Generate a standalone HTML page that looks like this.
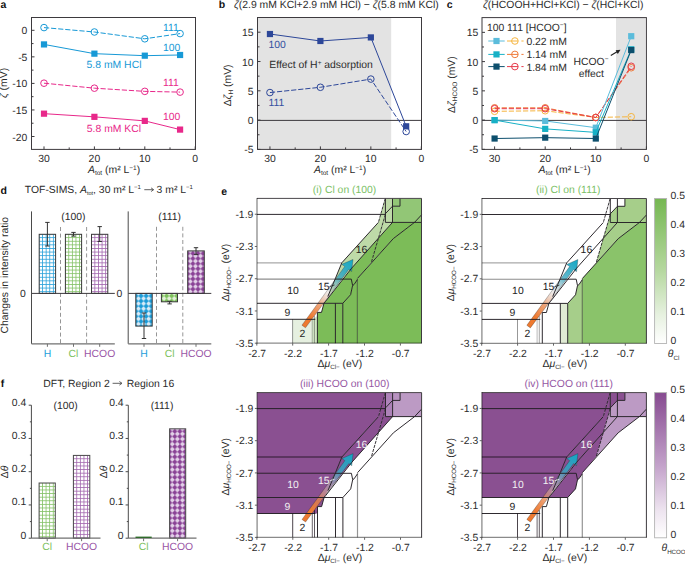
<!DOCTYPE html>
<html><head><meta charset="utf-8"><style>
html,body{margin:0;padding:0;background:#fff;}
svg{display:block;font-family:'Liberation Sans',sans-serif;text-rendering:geometricPrecision;}
</style></head><body>
<svg width="685" height="564" viewBox="0 0 685 564">
<rect width="685" height="564" fill="#fff"/>
<text x="0.6" y="8.0" font-size="10.5" font-weight="bold" fill="#111">a</text>
<text x="218.8" y="8.0" font-size="10.5" font-weight="bold" fill="#111">b</text>
<text x="446.8" y="8.0" font-size="10.5" font-weight="bold" fill="#111">c</text>
<text x="0.6" y="193.5" font-size="10.5" font-weight="bold" fill="#111">d</text>
<text x="221.2" y="194.5" font-size="10.5" font-weight="bold" fill="#111">e</text>
<text x="0.8" y="386.5" font-size="10.5" font-weight="bold" fill="#111">f</text>
<rect x="31.50" y="17.50" width="164.00" height="131.90" fill="none" stroke="#3d3a3e" stroke-width="1"/>
<line x1="31.50" y1="30.30" x2="34.50" y2="30.30" stroke="#3d3a3e" stroke-width="1" />
<text x="27.40" y="34.30" font-size="10.4" text-anchor="end" fill="#2b2b2b" >0</text>
<line x1="31.50" y1="56.85" x2="34.50" y2="56.85" stroke="#3d3a3e" stroke-width="1" />
<text x="27.40" y="60.85" font-size="10.4" text-anchor="end" fill="#2b2b2b" >-5</text>
<line x1="31.50" y1="83.40" x2="34.50" y2="83.40" stroke="#3d3a3e" stroke-width="1" />
<text x="27.40" y="87.40" font-size="10.4" text-anchor="end" fill="#2b2b2b" >-10</text>
<line x1="31.50" y1="109.95" x2="34.50" y2="109.95" stroke="#3d3a3e" stroke-width="1" />
<text x="27.40" y="113.95" font-size="10.4" text-anchor="end" fill="#2b2b2b" >-15</text>
<line x1="31.50" y1="136.50" x2="34.50" y2="136.50" stroke="#3d3a3e" stroke-width="1" />
<text x="27.40" y="140.50" font-size="10.4" text-anchor="end" fill="#2b2b2b" >-20</text>
<line x1="31.50" y1="43.58" x2="33.50" y2="43.58" stroke="#3d3a3e" stroke-width="1" />
<line x1="31.50" y1="70.12" x2="33.50" y2="70.12" stroke="#3d3a3e" stroke-width="1" />
<line x1="31.50" y1="96.67" x2="33.50" y2="96.67" stroke="#3d3a3e" stroke-width="1" />
<line x1="31.50" y1="123.22" x2="33.50" y2="123.22" stroke="#3d3a3e" stroke-width="1" />
<line x1="44.00" y1="149.40" x2="44.00" y2="146.40" stroke="#3d3a3e" stroke-width="1" />
<text x="44.00" y="162.10" font-size="10.4" text-anchor="middle" fill="#2b2b2b" >30</text>
<line x1="94.40" y1="149.40" x2="94.40" y2="146.40" stroke="#3d3a3e" stroke-width="1" />
<text x="94.40" y="162.10" font-size="10.4" text-anchor="middle" fill="#2b2b2b" >20</text>
<line x1="144.80" y1="149.40" x2="144.80" y2="146.40" stroke="#3d3a3e" stroke-width="1" />
<text x="144.80" y="162.10" font-size="10.4" text-anchor="middle" fill="#2b2b2b" >10</text>
<line x1="195.20" y1="149.40" x2="195.20" y2="146.40" stroke="#3d3a3e" stroke-width="1" />
<text x="195.20" y="162.10" font-size="10.4" text-anchor="middle" fill="#2b2b2b" >0</text>
<line x1="69.20" y1="149.40" x2="69.20" y2="147.40" stroke="#3d3a3e" stroke-width="1" />
<line x1="119.60" y1="149.40" x2="119.60" y2="147.40" stroke="#3d3a3e" stroke-width="1" />
<line x1="170.00" y1="149.40" x2="170.00" y2="147.40" stroke="#3d3a3e" stroke-width="1" />
<polyline points="44.00,27.59 94.40,32.00 144.80,38.80 180.08,33.59" fill="none" stroke="#1799d6" stroke-width="1.0" stroke-dasharray="5.2,1.9"/>
<circle cx="44.00" cy="27.59" r="3.3" fill="none" stroke="#1799d6" stroke-width="1.0"/>
<circle cx="94.40" cy="32.00" r="3.3" fill="none" stroke="#1799d6" stroke-width="1.0"/>
<circle cx="144.80" cy="38.80" r="3.3" fill="none" stroke="#1799d6" stroke-width="1.0"/>
<circle cx="180.08" cy="33.59" r="3.3" fill="none" stroke="#1799d6" stroke-width="1.0"/>
<polyline points="44.00,44.42 94.40,53.66 144.80,55.68 180.08,54.99" fill="none" stroke="#1799d6" stroke-width="1.0" />
<rect x="40.90" y="41.32" width="6.2" height="6.2" fill="#1799d6"/>
<rect x="91.30" y="50.56" width="6.2" height="6.2" fill="#1799d6"/>
<rect x="141.70" y="52.58" width="6.2" height="6.2" fill="#1799d6"/>
<rect x="176.98" y="51.89" width="6.2" height="6.2" fill="#1799d6"/>
<polyline points="44.00,83.19 94.40,88.18 144.80,91.36 180.08,92.11" fill="none" stroke="#e8288a" stroke-width="1.0" stroke-dasharray="5.2,1.9"/>
<circle cx="44.00" cy="83.19" r="3.3" fill="none" stroke="#e8288a" stroke-width="1.0"/>
<circle cx="94.40" cy="88.18" r="3.3" fill="none" stroke="#e8288a" stroke-width="1.0"/>
<circle cx="144.80" cy="91.36" r="3.3" fill="none" stroke="#e8288a" stroke-width="1.0"/>
<circle cx="180.08" cy="92.11" r="3.3" fill="none" stroke="#e8288a" stroke-width="1.0"/>
<polyline points="44.00,113.67 94.40,116.85 144.80,120.89 180.08,129.60" fill="none" stroke="#e8288a" stroke-width="1.0" />
<rect x="40.90" y="110.57" width="6.2" height="6.2" fill="#e8288a"/>
<rect x="91.30" y="113.75" width="6.2" height="6.2" fill="#e8288a"/>
<rect x="141.70" y="117.79" width="6.2" height="6.2" fill="#e8288a"/>
<rect x="176.98" y="126.50" width="6.2" height="6.2" fill="#e8288a"/>
<text x="163.00" y="31.20" font-size="10.4" text-anchor="start" fill="#1799d6" >111</text>
<text x="163.00" y="50.60" font-size="10.4" text-anchor="start" fill="#1799d6" >100</text>
<text x="86.60" y="68.40" font-size="10.4" text-anchor="start" fill="#1799d6" >5.8 mM HCl</text>
<text x="163.00" y="85.90" font-size="10.4" text-anchor="start" fill="#e8288a" >111</text>
<text x="163.00" y="119.60" font-size="10.4" text-anchor="start" fill="#e8288a" >100</text>
<text x="86.80" y="132.40" font-size="10.4" text-anchor="start" fill="#e8288a" >5.8 mM KCl</text>
<text x="88" y="172.8" font-size="10.4" fill="#2b2b2b"><tspan font-style="italic">A</tspan><tspan font-size="6.5" dy="2">tot</tspan><tspan dy="-2"> (m² L</tspan><tspan font-size="6.5" dy="-3">−1</tspan><tspan dy="3">)</tspan></text>
<text transform="translate(7.4,83) rotate(-90)" font-size="10.4" text-anchor="middle" fill="#2b2b2b"><tspan font-style="italic">ζ</tspan> (mV)</text>
<rect x="257.50" y="17.50" width="133.70" height="131.90" fill="#e3e3e3"/>
<line x1="257.50" y1="120.40" x2="421.50" y2="120.40" stroke="#3d3a3e" stroke-width="1" />
<rect x="257.50" y="17.50" width="164.00" height="131.90" fill="none" stroke="#3d3a3e" stroke-width="1"/>
<line x1="257.50" y1="32.20" x2="260.50" y2="32.20" stroke="#3d3a3e" stroke-width="1" />
<text x="253.60" y="36.20" font-size="10.4" text-anchor="end" fill="#2b2b2b" >15</text>
<line x1="257.50" y1="61.50" x2="260.50" y2="61.50" stroke="#3d3a3e" stroke-width="1" />
<text x="253.60" y="65.50" font-size="10.4" text-anchor="end" fill="#2b2b2b" >10</text>
<line x1="257.50" y1="90.80" x2="260.50" y2="90.80" stroke="#3d3a3e" stroke-width="1" />
<text x="253.60" y="94.80" font-size="10.4" text-anchor="end" fill="#2b2b2b" >5</text>
<line x1="257.50" y1="120.10" x2="260.50" y2="120.10" stroke="#3d3a3e" stroke-width="1" />
<text x="253.60" y="124.10" font-size="10.4" text-anchor="end" fill="#2b2b2b" >0</text>
<line x1="257.50" y1="149.40" x2="260.50" y2="149.40" stroke="#3d3a3e" stroke-width="1" />
<text x="253.60" y="153.40" font-size="10.4" text-anchor="end" fill="#2b2b2b" >-5</text>
<line x1="257.50" y1="46.85" x2="259.50" y2="46.85" stroke="#3d3a3e" stroke-width="1" />
<line x1="257.50" y1="76.15" x2="259.50" y2="76.15" stroke="#3d3a3e" stroke-width="1" />
<line x1="257.50" y1="105.45" x2="259.50" y2="105.45" stroke="#3d3a3e" stroke-width="1" />
<line x1="257.50" y1="134.75" x2="259.50" y2="134.75" stroke="#3d3a3e" stroke-width="1" />
<line x1="269.95" y1="149.40" x2="269.95" y2="146.40" stroke="#3d3a3e" stroke-width="1" />
<text x="269.95" y="162.10" font-size="10.4" text-anchor="middle" fill="#2b2b2b" >30</text>
<line x1="320.40" y1="149.40" x2="320.40" y2="146.40" stroke="#3d3a3e" stroke-width="1" />
<text x="320.40" y="162.10" font-size="10.4" text-anchor="middle" fill="#2b2b2b" >20</text>
<line x1="370.85" y1="149.40" x2="370.85" y2="146.40" stroke="#3d3a3e" stroke-width="1" />
<text x="370.85" y="162.10" font-size="10.4" text-anchor="middle" fill="#2b2b2b" >10</text>
<line x1="421.30" y1="149.40" x2="421.30" y2="146.40" stroke="#3d3a3e" stroke-width="1" />
<text x="421.30" y="162.10" font-size="10.4" text-anchor="middle" fill="#2b2b2b" >0</text>
<line x1="295.18" y1="149.40" x2="295.18" y2="147.40" stroke="#3d3a3e" stroke-width="1" />
<line x1="345.62" y1="149.40" x2="345.62" y2="147.40" stroke="#3d3a3e" stroke-width="1" />
<line x1="396.07" y1="149.40" x2="396.07" y2="147.40" stroke="#3d3a3e" stroke-width="1" />
<polyline points="269.95,34.02 320.40,40.99 370.85,37.42 406.17,126.31" fill="none" stroke="#2d4799" stroke-width="1.0" />
<rect x="266.85" y="30.92" width="6.2" height="6.2" fill="#2d4799"/>
<rect x="317.30" y="37.89" width="6.2" height="6.2" fill="#2d4799"/>
<rect x="367.75" y="34.32" width="6.2" height="6.2" fill="#2d4799"/>
<rect x="403.06" y="123.21" width="6.2" height="6.2" fill="#2d4799"/>
<polyline points="269.95,92.56 320.40,87.28 370.85,79.08 406.17,131.53" fill="none" stroke="#2d4799" stroke-width="1.0" stroke-dasharray="5.2,1.9"/>
<circle cx="269.95" cy="92.56" r="3.3" fill="none" stroke="#2d4799" stroke-width="1.0"/>
<circle cx="320.40" cy="87.28" r="3.3" fill="none" stroke="#2d4799" stroke-width="1.0"/>
<circle cx="370.85" cy="79.08" r="3.3" fill="none" stroke="#2d4799" stroke-width="1.0"/>
<circle cx="406.17" cy="131.53" r="3.3" fill="none" stroke="#2d4799" stroke-width="1.0"/>
<text x="268.50" y="47.70" font-size="10.4" text-anchor="start" fill="#3350a0" >100</text>
<text x="268.50" y="105.50" font-size="10.4" text-anchor="start" fill="#3350a0" >111</text>
<text x="269.3" y="68.3" font-size="10.4" fill="#2b2b2b">Effect of H<tspan font-size="6.5" dy="-3.5">+</tspan><tspan dy="3.5"> adsorption</tspan></text>
<text x="234" y="7.8" font-size="10.4" fill="#2b2b2b"><tspan font-style="italic">ζ</tspan>(2.9 mM KCl+2.9 mM HCl) − <tspan font-style="italic">ζ</tspan>(5.8 mM KCl)</text>
<text x="314" y="172.8" font-size="10.4" fill="#2b2b2b"><tspan font-style="italic">A</tspan><tspan font-size="6.5" dy="2">tot</tspan><tspan dy="-2"> (m² L</tspan><tspan font-size="6.5" dy="-3">−1</tspan><tspan dy="3">)</tspan></text>
<text transform="translate(230.6,85.4) rotate(-90)" font-size="10.4" text-anchor="middle" fill="#2b2b2b">Δ<tspan font-style="italic">ζ</tspan><tspan font-size="6.5" dy="2">H</tspan><tspan dy="-2"> (mV)</tspan></text>
<rect x="616.00" y="17.60" width="29.60" height="131.80" fill="#e3e3e3"/>
<line x1="482.00" y1="120.40" x2="646.40" y2="120.40" stroke="#3d3a3e" stroke-width="1" />
<rect x="482.00" y="17.60" width="164.40" height="131.80" fill="none" stroke="#3d3a3e" stroke-width="1"/>
<line x1="482.00" y1="32.35" x2="485.00" y2="32.35" stroke="#3d3a3e" stroke-width="1" />
<text x="478.40" y="36.35" font-size="10.4" text-anchor="end" fill="#2b2b2b" >15</text>
<line x1="482.00" y1="61.60" x2="485.00" y2="61.60" stroke="#3d3a3e" stroke-width="1" />
<text x="478.40" y="65.60" font-size="10.4" text-anchor="end" fill="#2b2b2b" >10</text>
<line x1="482.00" y1="90.85" x2="485.00" y2="90.85" stroke="#3d3a3e" stroke-width="1" />
<text x="478.40" y="94.85" font-size="10.4" text-anchor="end" fill="#2b2b2b" >5</text>
<line x1="482.00" y1="120.10" x2="485.00" y2="120.10" stroke="#3d3a3e" stroke-width="1" />
<text x="478.40" y="124.10" font-size="10.4" text-anchor="end" fill="#2b2b2b" >0</text>
<line x1="482.00" y1="149.35" x2="485.00" y2="149.35" stroke="#3d3a3e" stroke-width="1" />
<text x="478.40" y="153.35" font-size="10.4" text-anchor="end" fill="#2b2b2b" >-5</text>
<line x1="482.00" y1="46.97" x2="484.00" y2="46.97" stroke="#3d3a3e" stroke-width="1" />
<line x1="482.00" y1="76.22" x2="484.00" y2="76.22" stroke="#3d3a3e" stroke-width="1" />
<line x1="482.00" y1="105.47" x2="484.00" y2="105.47" stroke="#3d3a3e" stroke-width="1" />
<line x1="482.00" y1="134.72" x2="484.00" y2="134.72" stroke="#3d3a3e" stroke-width="1" />
<line x1="494.60" y1="149.40" x2="494.60" y2="146.40" stroke="#3d3a3e" stroke-width="1" />
<text x="494.60" y="162.10" font-size="10.4" text-anchor="middle" fill="#2b2b2b" >30</text>
<line x1="545.20" y1="149.40" x2="545.20" y2="146.40" stroke="#3d3a3e" stroke-width="1" />
<text x="545.20" y="162.10" font-size="10.4" text-anchor="middle" fill="#2b2b2b" >20</text>
<line x1="595.80" y1="149.40" x2="595.80" y2="146.40" stroke="#3d3a3e" stroke-width="1" />
<text x="595.80" y="162.10" font-size="10.4" text-anchor="middle" fill="#2b2b2b" >10</text>
<line x1="646.40" y1="149.40" x2="646.40" y2="146.40" stroke="#3d3a3e" stroke-width="1" />
<text x="646.40" y="162.10" font-size="10.4" text-anchor="middle" fill="#2b2b2b" >0</text>
<line x1="519.90" y1="149.40" x2="519.90" y2="147.40" stroke="#3d3a3e" stroke-width="1" />
<line x1="570.50" y1="149.40" x2="570.50" y2="147.40" stroke="#3d3a3e" stroke-width="1" />
<line x1="621.10" y1="149.40" x2="621.10" y2="147.40" stroke="#3d3a3e" stroke-width="1" />
<polyline points="494.60,111.32 545.20,110.74 595.80,117.47 631.22,116.71" fill="none" stroke="#f6b53f" stroke-width="1.0" stroke-dasharray="5.2,1.9"/>
<circle cx="494.60" cy="111.32" r="3.3" fill="none" stroke="#f6b53f" stroke-width="1.0"/>
<circle cx="545.20" cy="110.74" r="3.3" fill="none" stroke="#f6b53f" stroke-width="1.0"/>
<circle cx="595.80" cy="117.47" r="3.3" fill="none" stroke="#f6b53f" stroke-width="1.0"/>
<circle cx="631.22" cy="116.71" r="3.3" fill="none" stroke="#f6b53f" stroke-width="1.0"/>
<polyline points="494.60,107.81 545.20,107.81 595.80,117.47 631.22,67.74" fill="none" stroke="#f07a3a" stroke-width="1.0" stroke-dasharray="5.2,1.9"/>
<circle cx="494.60" cy="107.81" r="3.3" fill="none" stroke="#f07a3a" stroke-width="1.0"/>
<circle cx="545.20" cy="107.81" r="3.3" fill="none" stroke="#f07a3a" stroke-width="1.0"/>
<circle cx="595.80" cy="117.47" r="3.3" fill="none" stroke="#f07a3a" stroke-width="1.0"/>
<circle cx="631.22" cy="67.74" r="3.3" fill="none" stroke="#f07a3a" stroke-width="1.0"/>
<polyline points="494.60,108.69 545.20,108.69 595.80,117.47 631.22,66.28" fill="none" stroke="#e73a4b" stroke-width="1.0" stroke-dasharray="5.2,1.9"/>
<circle cx="494.60" cy="108.69" r="3.3" fill="none" stroke="#e73a4b" stroke-width="1.0"/>
<circle cx="545.20" cy="108.69" r="3.3" fill="none" stroke="#e73a4b" stroke-width="1.0"/>
<circle cx="595.80" cy="117.47" r="3.3" fill="none" stroke="#e73a4b" stroke-width="1.0"/>
<circle cx="631.22" cy="66.28" r="3.3" fill="none" stroke="#e73a4b" stroke-width="1.0"/>
<polyline points="494.60,120.10 545.20,120.98 595.80,127.70 631.22,36.21" fill="none" stroke="#5bbcdb" stroke-width="1.0" />
<rect x="491.50" y="117.00" width="6.2" height="6.2" fill="#5bbcdb"/>
<rect x="542.10" y="117.88" width="6.2" height="6.2" fill="#5bbcdb"/>
<rect x="592.70" y="124.61" width="6.2" height="6.2" fill="#5bbcdb"/>
<rect x="628.12" y="33.11" width="6.2" height="6.2" fill="#5bbcdb"/>
<polyline points="494.60,120.10 545.20,128.88 595.80,132.38 631.22,49.31" fill="none" stroke="#17b1c6" stroke-width="1.0" />
<rect x="491.50" y="117.00" width="6.2" height="6.2" fill="#17b1c6"/>
<rect x="542.10" y="125.78" width="6.2" height="6.2" fill="#17b1c6"/>
<rect x="592.70" y="129.28" width="6.2" height="6.2" fill="#17b1c6"/>
<rect x="628.12" y="46.21" width="6.2" height="6.2" fill="#17b1c6"/>
<polyline points="494.60,138.53 545.20,137.65 595.80,138.53 631.22,50.08" fill="none" stroke="#0d4f6d" stroke-width="1.0" />
<rect x="491.50" y="135.43" width="6.2" height="6.2" fill="#0d4f6d"/>
<rect x="542.10" y="134.55" width="6.2" height="6.2" fill="#0d4f6d"/>
<rect x="592.70" y="135.43" width="6.2" height="6.2" fill="#0d4f6d"/>
<rect x="628.12" y="46.98" width="6.2" height="6.2" fill="#0d4f6d"/>
<text x="486.9" y="30.5" font-size="10.4" fill="#2b2b2b">100 111 [HCOO<tspan font-size="6.5" dy="-3.5">−</tspan><tspan dy="3.5">]</tspan></text>
<line x1="488.30" y1="41.00" x2="504.70" y2="41.00" stroke="#5bbcdb" stroke-width="1" />
<rect x="493.40" y="37.90" width="6.2" height="6.2" fill="#5bbcdb"/>
<line x1="507.00" y1="41.00" x2="518.00" y2="41.00" stroke="#f6b53f" stroke-width="1" />
<line x1="521.40" y1="41.00" x2="523.60" y2="41.00" stroke="#f6b53f" stroke-width="1" />
<circle cx="514.90" cy="41.00" r="3.3" fill="none" stroke="#f6b53f" stroke-width="1.0"/>
<text x="526.40" y="45.00" font-size="10.4" text-anchor="start" fill="#2b2b2b" >0.22 mM</text>
<line x1="488.30" y1="54.40" x2="504.70" y2="54.40" stroke="#17b1c6" stroke-width="1" />
<rect x="493.40" y="51.30" width="6.2" height="6.2" fill="#17b1c6"/>
<line x1="507.00" y1="54.40" x2="518.00" y2="54.40" stroke="#f07a3a" stroke-width="1" />
<line x1="521.40" y1="54.40" x2="523.60" y2="54.40" stroke="#f07a3a" stroke-width="1" />
<circle cx="514.90" cy="54.40" r="3.3" fill="none" stroke="#f07a3a" stroke-width="1.0"/>
<text x="526.40" y="58.40" font-size="10.4" text-anchor="start" fill="#2b2b2b" >1.14 mM</text>
<line x1="488.30" y1="66.60" x2="504.70" y2="66.60" stroke="#0d4f6d" stroke-width="1" />
<rect x="493.40" y="63.50" width="6.2" height="6.2" fill="#0d4f6d"/>
<line x1="507.00" y1="66.60" x2="518.00" y2="66.60" stroke="#e73a4b" stroke-width="1" />
<line x1="521.40" y1="66.60" x2="523.60" y2="66.60" stroke="#e73a4b" stroke-width="1" />
<circle cx="514.90" cy="66.60" r="3.3" fill="none" stroke="#e73a4b" stroke-width="1.0"/>
<text x="526.40" y="70.60" font-size="10.4" text-anchor="start" fill="#2b2b2b" >1.84 mM</text>
<text x="591.00" y="64.80" font-size="10.4" text-anchor="middle" fill="#2b2b2b" >HCOO<tspan font-size="6.5" dy="-3.5">−</tspan></text>
<text x="591.30" y="76.60" font-size="10.4" text-anchor="middle" fill="#2b2b2b" >effect</text>
<line x1="610.80" y1="55.60" x2="617.50" y2="51.60" stroke="#222" stroke-width="1.2" />
<polygon points="620.50,49.80 615.60,50.20 617.80,54.00" fill="#222" stroke="none" stroke-width="1" />
<text x="538.5" y="172.8" font-size="10.4" fill="#2b2b2b"><tspan font-style="italic">A</tspan><tspan font-size="6.5" dy="2">tot</tspan><tspan dy="-2"> (m² L</tspan><tspan font-size="6.5" dy="-3">−1</tspan><tspan dy="3">)</tspan></text>
<text transform="translate(454.8,84.6) rotate(-90)" font-size="10.4" text-anchor="middle" fill="#2b2b2b">Δ<tspan font-style="italic">ζ</tspan><tspan font-size="6.5" dy="2">HCOO</tspan><tspan dy="-2"> (mV)</tspan></text>
<text x="483" y="7.8" font-size="10.4" fill="#2b2b2b"><tspan font-style="italic">ζ</tspan>(HCOOH+HCl+KCl) − <tspan font-style="italic">ζ</tspan>(HCl+KCl)</text>
<text x="24.8" y="192.8" font-size="10.4" fill="#2b2b2b">TOF-SIMS, <tspan font-style="italic">A</tspan><tspan font-size="5.5" dy="2">tot</tspan><tspan dy="-2">, 30 m² L</tspan><tspan font-size="6" dy="-3.5">−1</tspan></text>
<text x="156.6" y="192.8" font-size="10.4" fill="#2b2b2b">3 m² L<tspan font-size="6" dy="-3.5">−1</tspan></text>
<line x1="144.30" y1="189.70" x2="153.20" y2="189.70" stroke="#444" stroke-width="0.85" />
<polyline points="151.10,187.90 153.70,189.70 151.10,191.50" fill="none" stroke="#444" stroke-width="0.85" />
<text transform="translate(8.0,275.2) rotate(-90)" font-size="10.4" text-anchor="middle" fill="#2b2b2b">Changes in intensity ratio</text>
<line x1="60.50" y1="227.00" x2="60.50" y2="343.80" stroke="#8a8a8a" stroke-width="0.9" stroke-dasharray="4,2.6"/>
<line x1="86.60" y1="227.00" x2="86.60" y2="343.80" stroke="#8a8a8a" stroke-width="0.9" stroke-dasharray="4,2.6"/>
<defs><pattern id="p1" patternUnits="userSpaceOnUse" width="3.6" height="3.6" x="38.50" y="233.60"><rect width="3.6" height="3.6" fill="#fff"/><rect x="0" y="0" width="0.8" height="3.6" fill="#2aa2da"/><rect x="0" y="0" width="3.6" height="0.8" fill="#2aa2da"/></pattern></defs>
<rect x="39.20" y="234.30" width="16.40" height="59.10" fill="url(#p1)" stroke="#3a3a3a" stroke-width="1"/>
<defs><pattern id="p2" patternUnits="userSpaceOnUse" width="3.6" height="3.6" x="64.70" y="233.60"><rect width="3.6" height="3.6" fill="#fff"/><rect x="0" y="0" width="0.8" height="3.6" fill="#84c266"/><rect x="0" y="0" width="3.6" height="0.8" fill="#84c266"/></pattern></defs>
<rect x="65.40" y="234.30" width="16.20" height="59.10" fill="url(#p2)" stroke="#3a3a3a" stroke-width="1"/>
<defs><pattern id="p3" patternUnits="userSpaceOnUse" width="3.6" height="3.6" x="90.80" y="233.60"><rect width="3.6" height="3.6" fill="#fff"/><rect x="0" y="0" width="0.8" height="3.6" fill="#a266ae"/><rect x="0" y="0" width="3.6" height="0.8" fill="#a266ae"/></pattern></defs>
<rect x="91.50" y="234.30" width="16.30" height="59.10" fill="url(#p3)" stroke="#3a3a3a" stroke-width="1"/>
<line x1="31.50" y1="293.40" x2="114.80" y2="293.40" stroke="#3d3a3e" stroke-width="1" />
<line x1="47.40" y1="222.40" x2="47.40" y2="246.00" stroke="#333" stroke-width="1" />
<line x1="45.20" y1="222.40" x2="49.60" y2="222.40" stroke="#333" stroke-width="1" />
<line x1="45.20" y1="246.00" x2="49.60" y2="246.00" stroke="#333" stroke-width="1" />
<line x1="73.50" y1="232.40" x2="73.50" y2="236.10" stroke="#333" stroke-width="1" />
<line x1="71.30" y1="232.40" x2="75.70" y2="232.40" stroke="#333" stroke-width="1" />
<line x1="71.30" y1="236.10" x2="75.70" y2="236.10" stroke="#333" stroke-width="1" />
<line x1="99.70" y1="226.60" x2="99.70" y2="241.50" stroke="#333" stroke-width="1" />
<line x1="97.50" y1="226.60" x2="101.90" y2="226.60" stroke="#333" stroke-width="1" />
<line x1="97.50" y1="241.50" x2="101.90" y2="241.50" stroke="#333" stroke-width="1" />
<line x1="31.50" y1="211.40" x2="31.50" y2="343.80" stroke="#4a4a4a" stroke-width="1" />
<line x1="31.50" y1="343.80" x2="114.80" y2="343.80" stroke="#707070" stroke-width="1.3" />
<line x1="47.40" y1="343.80" x2="47.40" y2="346.80" stroke="#707070" stroke-width="1" />
<line x1="73.50" y1="343.80" x2="73.50" y2="346.80" stroke="#707070" stroke-width="1" />
<line x1="99.70" y1="343.80" x2="99.70" y2="346.80" stroke="#707070" stroke-width="1" />
<text x="73.40" y="219.60" font-size="10.4" text-anchor="middle" fill="#2b2b2b" >(100)</text>
<text x="47.40" y="356.70" font-size="10.4" text-anchor="middle" fill="#1ea0db" >H</text>
<text x="73.50" y="356.70" font-size="10.4" text-anchor="middle" fill="#7dc15e" >Cl</text>
<text x="99.70" y="356.70" font-size="10.4" text-anchor="middle" fill="#9a56a6" >HCOO</text>
<text x="25.70" y="296.90" font-size="10.4" text-anchor="end" fill="#2b2b2b" >0</text>
<line x1="156.50" y1="226.80" x2="156.50" y2="343.80" stroke="#8a8a8a" stroke-width="0.9" stroke-dasharray="4,2.6"/>
<line x1="182.80" y1="226.80" x2="182.80" y2="343.80" stroke="#8a8a8a" stroke-width="0.9" stroke-dasharray="4,2.6"/>
<defs><pattern id="p4" patternUnits="userSpaceOnUse" width="5.1" height="5.1" x="135.90" y="290.85"><rect width="5.1" height="5.1" fill="#1b9bd7"/><polygon points="2.55,0.1 5.0,2.55 2.55,5.0 0.1,2.55" fill="#d6eaf7"/></pattern></defs>
<rect x="135.80" y="293.40" width="16.40" height="32.70" fill="url(#p4)" stroke="#3a3a3a" stroke-width="1"/>
<defs><pattern id="p5" patternUnits="userSpaceOnUse" width="5.1" height="5.1" x="161.50" y="290.85"><rect width="5.1" height="5.1" fill="#7cc05a"/><polygon points="2.55,0.1 5.0,2.55 2.55,5.0 0.1,2.55" fill="#e3f1da"/></pattern></defs>
<rect x="161.40" y="293.40" width="16.10" height="8.40" fill="url(#p5)" stroke="#3a3a3a" stroke-width="1"/>
<defs><pattern id="p6" patternUnits="userSpaceOnUse" width="5.1" height="5.1" x="187.80" y="248.35"><rect width="5.1" height="5.1" fill="#8a4296"/><polygon points="2.55,0.1 5.0,2.55 2.55,5.0 0.1,2.55" fill="#e2d0e8"/></pattern></defs>
<rect x="187.70" y="250.90" width="16.60" height="42.50" fill="url(#p6)" stroke="#3a3a3a" stroke-width="1"/>
<line x1="128.20" y1="293.40" x2="211.30" y2="293.40" stroke="#3d3a3e" stroke-width="1" />
<line x1="144.00" y1="313.00" x2="144.00" y2="338.50" stroke="#333" stroke-width="1" />
<line x1="141.80" y1="313.00" x2="146.20" y2="313.00" stroke="#333" stroke-width="1" />
<line x1="141.80" y1="338.50" x2="146.20" y2="338.50" stroke="#333" stroke-width="1" />
<line x1="169.60" y1="301.30" x2="169.60" y2="303.90" stroke="#333" stroke-width="1" />
<line x1="167.40" y1="301.30" x2="171.80" y2="301.30" stroke="#333" stroke-width="1" />
<line x1="167.40" y1="303.90" x2="171.80" y2="303.90" stroke="#333" stroke-width="1" />
<line x1="196.00" y1="247.70" x2="196.00" y2="254.60" stroke="#333" stroke-width="1" />
<line x1="193.80" y1="247.70" x2="198.20" y2="247.70" stroke="#333" stroke-width="1" />
<line x1="193.80" y1="254.60" x2="198.20" y2="254.60" stroke="#333" stroke-width="1" />
<line x1="128.20" y1="211.40" x2="128.20" y2="343.80" stroke="#4a4a4a" stroke-width="1" />
<line x1="128.20" y1="343.80" x2="211.30" y2="343.80" stroke="#707070" stroke-width="1.3" />
<line x1="144.00" y1="343.80" x2="144.00" y2="346.80" stroke="#707070" stroke-width="1" />
<line x1="169.60" y1="343.80" x2="169.60" y2="346.80" stroke="#707070" stroke-width="1" />
<line x1="196.00" y1="343.80" x2="196.00" y2="346.80" stroke="#707070" stroke-width="1" />
<text x="169.60" y="219.60" font-size="10.4" text-anchor="middle" fill="#2b2b2b" >(111)</text>
<text x="144.00" y="356.70" font-size="10.4" text-anchor="middle" fill="#1ea0db" >H</text>
<text x="169.60" y="356.70" font-size="10.4" text-anchor="middle" fill="#7dc15e" >Cl</text>
<text x="196.00" y="356.70" font-size="10.4" text-anchor="middle" fill="#9a56a6" >HCOO</text>
<text x="122.40" y="296.90" font-size="10.4" text-anchor="end" fill="#2b2b2b" >0</text>
<text x="43.30" y="386.50" font-size="10.4" text-anchor="start" fill="#2b2b2b" >DFT, Region 2</text>
<text x="126.80" y="386.50" font-size="10.4" text-anchor="start" fill="#2b2b2b" >Region 16</text>
<line x1="112.60" y1="383.30" x2="121.50" y2="383.30" stroke="#444" stroke-width="0.85" />
<polyline points="119.40,381.50 122.00,383.30 119.40,385.10" fill="none" stroke="#444" stroke-width="0.85" />
<defs><pattern id="p7" patternUnits="userSpaceOnUse" width="3.6" height="3.6" x="38.40" y="482.31"><rect width="3.6" height="3.6" fill="#fff"/><rect x="0" y="0" width="0.8" height="3.6" fill="#84c266"/><rect x="0" y="0" width="3.6" height="0.8" fill="#84c266"/></pattern></defs>
<rect x="39.10" y="483.01" width="16.20" height="55.19" fill="url(#p7)" stroke="#4a4a4a" stroke-width="1"/>
<defs><pattern id="p8" patternUnits="userSpaceOnUse" width="3.6" height="3.6" x="72.70" y="454.71"><rect width="3.6" height="3.6" fill="#fff"/><rect x="0" y="0" width="0.8" height="3.6" fill="#a266ae"/><rect x="0" y="0" width="3.6" height="0.8" fill="#a266ae"/></pattern></defs>
<rect x="73.40" y="455.41" width="16.40" height="82.79" fill="url(#p8)" stroke="#4a4a4a" stroke-width="1"/>
<line x1="31.40" y1="405.20" x2="31.40" y2="538.20" stroke="#4a4a4a" stroke-width="1" />
<line x1="31.40" y1="538.20" x2="100.50" y2="538.20" stroke="#707070" stroke-width="1.3" />
<line x1="28.70" y1="538.20" x2="31.40" y2="538.20" stroke="#4a4a4a" stroke-width="1" />
<text x="26.20" y="538.50" font-size="10.4" text-anchor="end" fill="#2b2b2b" >0</text>
<line x1="28.70" y1="504.95" x2="31.40" y2="504.95" stroke="#4a4a4a" stroke-width="1" />
<text x="26.20" y="505.25" font-size="10.4" text-anchor="end" fill="#2b2b2b" >0.1</text>
<line x1="28.70" y1="471.70" x2="31.40" y2="471.70" stroke="#4a4a4a" stroke-width="1" />
<text x="26.20" y="472.00" font-size="10.4" text-anchor="end" fill="#2b2b2b" >0.2</text>
<line x1="28.70" y1="438.45" x2="31.40" y2="438.45" stroke="#4a4a4a" stroke-width="1" />
<text x="26.20" y="438.75" font-size="10.4" text-anchor="end" fill="#2b2b2b" >0.3</text>
<line x1="28.70" y1="405.20" x2="31.40" y2="405.20" stroke="#4a4a4a" stroke-width="1" />
<text x="26.20" y="405.50" font-size="10.4" text-anchor="end" fill="#2b2b2b" >0.4</text>
<line x1="29.90" y1="521.58" x2="31.40" y2="521.58" stroke="#4a4a4a" stroke-width="1" />
<line x1="29.90" y1="488.33" x2="31.40" y2="488.33" stroke="#4a4a4a" stroke-width="1" />
<line x1="29.90" y1="455.08" x2="31.40" y2="455.08" stroke="#4a4a4a" stroke-width="1" />
<line x1="29.90" y1="421.83" x2="31.40" y2="421.83" stroke="#4a4a4a" stroke-width="1" />
<line x1="47.20" y1="538.20" x2="47.20" y2="541.20" stroke="#707070" stroke-width="1" />
<line x1="81.60" y1="538.20" x2="81.60" y2="541.20" stroke="#707070" stroke-width="1" />
<text x="65.60" y="409.20" font-size="10.4" text-anchor="middle" fill="#2b2b2b" >(100)</text>
<text x="47.20" y="549.60" font-size="10.4" text-anchor="middle" fill="#7dc15e" >Cl</text>
<text x="81.60" y="549.60" font-size="10.4" text-anchor="middle" fill="#9a56a6" >HCOO</text>
<text transform="translate(8.3,472.0) rotate(-90)" font-size="10.4" text-anchor="middle" fill="#2b2b2b">Δ<tspan font-style="italic">θ</tspan></text>
<defs><pattern id="p9" patternUnits="userSpaceOnUse" width="5.1" height="5.1" x="169.70" y="426.26"><rect width="5.1" height="5.1" fill="#8a4296"/><polygon points="2.55,0.1 5.0,2.55 2.55,5.0 0.1,2.55" fill="#e2d0e8"/></pattern></defs>
<rect x="169.60" y="428.81" width="16.10" height="109.39" fill="url(#p9)" stroke="#4a4a4a" stroke-width="1"/>
<line x1="128.30" y1="405.20" x2="128.30" y2="538.20" stroke="#4a4a4a" stroke-width="1" />
<line x1="128.30" y1="538.20" x2="196.50" y2="538.20" stroke="#707070" stroke-width="1.3" />
<line x1="125.60" y1="538.20" x2="128.30" y2="538.20" stroke="#4a4a4a" stroke-width="1" />
<text x="123.60" y="538.50" font-size="10.4" text-anchor="end" fill="#2b2b2b" >0</text>
<line x1="125.60" y1="504.95" x2="128.30" y2="504.95" stroke="#4a4a4a" stroke-width="1" />
<text x="123.60" y="505.25" font-size="10.4" text-anchor="end" fill="#2b2b2b" >0.1</text>
<line x1="125.60" y1="471.70" x2="128.30" y2="471.70" stroke="#4a4a4a" stroke-width="1" />
<text x="123.60" y="472.00" font-size="10.4" text-anchor="end" fill="#2b2b2b" >0.2</text>
<line x1="125.60" y1="438.45" x2="128.30" y2="438.45" stroke="#4a4a4a" stroke-width="1" />
<text x="123.60" y="438.75" font-size="10.4" text-anchor="end" fill="#2b2b2b" >0.3</text>
<line x1="125.60" y1="405.20" x2="128.30" y2="405.20" stroke="#4a4a4a" stroke-width="1" />
<text x="123.60" y="405.50" font-size="10.4" text-anchor="end" fill="#2b2b2b" >0.4</text>
<line x1="126.80" y1="521.58" x2="128.30" y2="521.58" stroke="#4a4a4a" stroke-width="1" />
<line x1="126.80" y1="488.33" x2="128.30" y2="488.33" stroke="#4a4a4a" stroke-width="1" />
<line x1="126.80" y1="455.08" x2="128.30" y2="455.08" stroke="#4a4a4a" stroke-width="1" />
<line x1="126.80" y1="421.83" x2="128.30" y2="421.83" stroke="#4a4a4a" stroke-width="1" />
<line x1="143.60" y1="538.20" x2="143.60" y2="541.20" stroke="#707070" stroke-width="1" />
<line x1="177.60" y1="538.20" x2="177.60" y2="541.20" stroke="#707070" stroke-width="1" />
<text x="162.00" y="409.20" font-size="10.4" text-anchor="middle" fill="#2b2b2b" >(111)</text>
<text x="143.60" y="549.60" font-size="10.4" text-anchor="middle" fill="#7dc15e" >Cl</text>
<text x="177.60" y="549.60" font-size="10.4" text-anchor="middle" fill="#9a56a6" >HCOO</text>
<text transform="translate(107.0,472.0) rotate(-90)" font-size="10.4" text-anchor="middle" fill="#2b2b2b">Δ<tspan font-style="italic">θ</tspan></text>
<line x1="135.50" y1="537.30" x2="151.70" y2="537.30" stroke="#2f6b2a" stroke-width="1.4" />
<polygon points="292.60,319.30 312.20,319.30 312.20,343.20 292.60,343.20" fill="#e6f0e0" stroke="none" stroke-width="1" />
<polygon points="312.20,319.30 317.40,316.00 317.40,343.20 312.20,343.20" fill="#d3e7c6" stroke="none" stroke-width="1" />
<polygon points="385.30,198.40 385.40,214.40 378.40,238.20 351.70,268.10 327.80,296.50 335.50,278.20 341.80,262.80 378.40,222.40" fill="#bedaa8" stroke="none" stroke-width="1" />
<polygon points="385.40,214.40 385.40,222.40 392.50,222.40 378.40,238.20" fill="#bedaa8" stroke="none" stroke-width="1" />
<polygon points="385.40,198.40 392.50,198.40 392.50,206.20 385.40,213.70" fill="#bedaa8" stroke="none" stroke-width="1" />
<polygon points="385.40,213.70 392.50,206.20 392.50,222.40 385.40,222.40" fill="#bedaa8" stroke="none" stroke-width="1" />
<polygon points="392.50,198.40 400.00,198.40 400.00,206.20 392.50,206.20" fill="#92c676" stroke="none" stroke-width="1" />
<polygon points="400.00,198.40 421.50,198.40 421.50,222.40 392.50,222.40 392.50,206.20 400.00,206.20" fill="#92c676" stroke="none" stroke-width="1" />
<polygon points="378.40,238.20 392.50,222.40 414.50,222.40 393.30,238.60 371.30,262.60" fill="#7cbc58" stroke="none" stroke-width="1" />
<polygon points="414.50,222.40 421.50,222.40 421.50,343.20 357.40,343.20 357.40,278.50 393.30,238.60" fill="#7cbc58" stroke="none" stroke-width="1" />
<polygon points="378.40,238.20 371.30,262.60 357.40,278.50 357.40,279.60 354.00,284.60 352.60,285.50 350.60,294.70 342.80,303.30 324.00,303.30 325.70,301.20 351.70,268.10" fill="#7cbc58" stroke="none" stroke-width="1" />
<polygon points="357.40,278.50 357.40,343.20 342.80,343.20 342.80,303.30 350.60,294.70 352.60,285.50 354.00,284.60 357.40,279.60" fill="#7cbc58" stroke="none" stroke-width="1" />
<polygon points="335.40,303.30 342.80,303.30 342.80,343.20 335.40,343.20" fill="#7cbc58" stroke="none" stroke-width="1" />
<polygon points="317.40,343.20 317.40,312.40 321.50,312.40 324.00,303.30 335.40,303.30 335.40,343.20" fill="#7cbc58" stroke="none" stroke-width="1" />
<defs><linearGradient id="ag0_0" gradientUnits="userSpaceOnUse" x1="303.7" y1="326.5" x2="353.0" y2="259.4"><stop offset="0" stop-color="#ee7a30"/><stop offset="0.14" stop-color="#ee7a30"/><stop offset="0.32" stop-color="#e8844a" stop-opacity="0.75"/><stop offset="0.5" stop-color="#d9cdc8" stop-opacity="0.42"/><stop offset="0.72" stop-color="#3aa6c0" stop-opacity="0.8"/><stop offset="1" stop-color="#10a8c6"/></linearGradient></defs>
<polygon points="305.47,327.80 348.74,269.42 351.64,271.55 353.00,259.40 341.81,264.33 344.71,266.46 301.93,325.20" fill="url(#ag0_0)" stroke="rgba(30,30,30,0.55)" stroke-width="0.5" />
<polyline points="257.00,214.40 385.40,214.40" fill="none" stroke="#231f24" stroke-width="0.95" />
<polyline points="257.00,262.80 341.80,262.80" fill="none" stroke="rgba(0,0,0,0.34)" stroke-width="1.2" />
<polyline points="257.00,279.10 334.80,279.10" fill="none" stroke="rgba(0,0,0,0.45)" stroke-width="1.1" />
<polyline points="334.80,279.10 351.30,279.10" fill="none" stroke="#231f24" stroke-width="0.95" />
<polyline points="257.00,303.30 342.80,303.30" fill="none" stroke="#231f24" stroke-width="0.95" />
<polyline points="257.00,319.30 315.30,319.30" fill="none" stroke="#231f24" stroke-width="0.95" />
<polyline points="385.40,222.40 421.50,222.40" fill="none" stroke="#231f24" stroke-width="0.95" />
<polyline points="392.50,206.20 400.00,206.20 400.00,198.40" fill="none" stroke="#231f24" stroke-width="0.95" />
<polyline points="385.40,198.40 385.40,222.40" fill="none" stroke="#231f24" stroke-width="0.95" />
<polyline points="392.50,198.40 392.50,222.40" fill="none" stroke="#231f24" stroke-width="0.95" />
<polyline points="292.60,319.30 292.60,343.20" fill="none" stroke="rgba(0,0,0,0.45)" stroke-width="0.9" />
<polyline points="312.20,319.30 312.20,343.20" fill="none" stroke="rgba(0,0,0,0.34)" stroke-width="0.8" />
<polyline points="314.40,316.00 314.40,343.20" fill="none" stroke="rgba(0,0,0,0.45)" stroke-width="0.8" />
<polyline points="317.40,312.40 317.40,343.20" fill="none" stroke="#231f24" stroke-width="0.95" />
<polyline points="335.40,303.30 335.40,343.20" fill="none" stroke="#231f24" stroke-width="0.95" />
<polyline points="342.80,303.30 342.80,343.20" fill="none" stroke="#231f24" stroke-width="0.95" />
<polyline points="357.40,279.00 357.40,343.20" fill="none" stroke="rgba(0,0,0,0.42)" stroke-width="1.2" />
<polyline points="392.50,206.20 385.40,213.70" fill="none" stroke="#231f24" stroke-width="0.95" />
<polyline points="385.30,198.40 378.40,222.40" fill="none" stroke="#231f24" stroke-width="0.9" stroke-dasharray="3.2,1"/>
<polyline points="378.40,222.40 341.80,262.80 335.50,278.20 327.80,296.50" fill="none" stroke="#231f24" stroke-width="0.95" />
<polyline points="385.40,214.40 371.30,262.60" fill="none" stroke="#231f24" stroke-width="0.9" stroke-dasharray="3.2,1"/>
<polyline points="392.50,222.40 351.70,268.10 325.70,301.20 324.00,303.30 321.50,312.40 317.40,312.40" fill="none" stroke="#231f24" stroke-width="0.95" />
<polyline points="421.50,214.90 414.50,222.40 393.30,238.60 357.40,278.50" fill="none" stroke="#231f24" stroke-width="0.95" />
<polyline points="357.40,279.60 354.00,284.60 352.60,285.50" fill="none" stroke="#231f24" stroke-width="0.95" />
<polyline points="351.30,279.10 352.60,285.50 350.60,294.70 342.80,303.30" fill="none" stroke="#231f24" stroke-width="0.95" />
<line x1="257.0" y1="198.4" x2="421.5" y2="198.4" stroke="#4a474b" stroke-width="1"/>
<line x1="421.5" y1="198.4" x2="421.5" y2="343.2" stroke="#3d3a3e" stroke-width="1"/>
<line x1="257.0" y1="197.9" x2="257.0" y2="343.8" stroke="rgba(0,0,0,0.46)" stroke-width="1.3"/>
<line x1="256.4" y1="343.2" x2="422.0" y2="343.2" stroke="rgba(0,0,0,0.46)" stroke-width="1.2"/>
<line x1="254.80" y1="214.24" x2="257.00" y2="214.24" stroke="#555" stroke-width="0.9" />
<text x="253.30" y="217.84" font-size="10.4" text-anchor="end" fill="#2b2b2b" >-1.9</text>
<line x1="254.80" y1="246.48" x2="257.00" y2="246.48" stroke="#555" stroke-width="0.9" />
<text x="253.30" y="250.08" font-size="10.4" text-anchor="end" fill="#2b2b2b" >-2.3</text>
<line x1="254.80" y1="278.72" x2="257.00" y2="278.72" stroke="#555" stroke-width="0.9" />
<text x="253.30" y="282.32" font-size="10.4" text-anchor="end" fill="#2b2b2b" >-2.7</text>
<line x1="254.80" y1="310.96" x2="257.00" y2="310.96" stroke="#555" stroke-width="0.9" />
<text x="253.30" y="314.56" font-size="10.4" text-anchor="end" fill="#2b2b2b" >-3.1</text>
<line x1="254.80" y1="343.20" x2="257.00" y2="343.20" stroke="#555" stroke-width="0.9" />
<text x="253.30" y="346.80" font-size="10.4" text-anchor="end" fill="#2b2b2b" >-3.5</text>
<line x1="256.80" y1="343.20" x2="256.80" y2="345.60" stroke="#555" stroke-width="0.9" />
<text x="257.10" y="356.50" font-size="10.4" text-anchor="middle" fill="#2b2b2b" >-2.7</text>
<line x1="292.70" y1="343.20" x2="292.70" y2="345.60" stroke="#555" stroke-width="0.9" />
<text x="293.00" y="356.50" font-size="10.4" text-anchor="middle" fill="#2b2b2b" >-2.2</text>
<line x1="328.60" y1="343.20" x2="328.60" y2="345.60" stroke="#555" stroke-width="0.9" />
<text x="328.90" y="356.50" font-size="10.4" text-anchor="middle" fill="#2b2b2b" >-1.7</text>
<line x1="364.50" y1="343.20" x2="364.50" y2="345.60" stroke="#555" stroke-width="0.9" />
<text x="364.80" y="356.50" font-size="10.4" text-anchor="middle" fill="#2b2b2b" >-1.2</text>
<line x1="400.40" y1="343.20" x2="400.40" y2="345.60" stroke="#555" stroke-width="0.9" />
<text x="400.70" y="356.50" font-size="10.4" text-anchor="middle" fill="#2b2b2b" >-0.7</text>
<text x="317.6" y="366.9" font-size="10.4" fill="#2b2b2b">Δ<tspan font-style="italic">μ</tspan><tspan font-size="6.2" dy="2">Cl−</tspan><tspan dy="-2"> (eV)</tspan></text>
<text transform="translate(228.9,272.5) rotate(-90)" font-size="10.4" text-anchor="middle" fill="#2b2b2b">Δ<tspan font-style="italic">μ</tspan><tspan font-size="6.2" dy="2">HCOO−</tspan><tspan dy="-2"> (eV)</tspan></text>
<text x="312.80" y="193.10" font-size="10.4" text-anchor="start" fill="#7cbf66" >(i) Cl on (100)</text>
<text x="361.50" y="253.30" font-size="10.4" text-anchor="middle" fill="#222" >16</text>
<text x="323.70" y="289.80" font-size="10.4" text-anchor="middle" fill="#222" >15</text>
<text x="293.00" y="294.10" font-size="10.4" text-anchor="middle" fill="#222" >10</text>
<text x="287.40" y="315.80" font-size="10.4" text-anchor="middle" fill="#222" >9</text>
<text x="302.40" y="336.60" font-size="10.4" text-anchor="middle" fill="#222" >2</text>
<line x1="329.60" y1="286.60" x2="334.50" y2="285.00" stroke="#222" stroke-width="0.8" />
<polygon points="610.30,214.50 610.30,222.50 617.40,222.50 603.30,238.30" fill="#a6ce8a" stroke="none" stroke-width="1" />
<polygon points="610.30,213.80 617.40,206.30 617.40,222.50 610.30,222.50" fill="#a6ce8a" stroke="none" stroke-width="1" />
<polygon points="624.90,198.50 646.40,198.50 646.40,222.50 617.40,222.50 617.40,206.30 624.90,206.30" fill="#a6ce8a" stroke="none" stroke-width="1" />
<polygon points="603.30,238.30 617.40,222.50 639.40,222.50 618.20,238.70 596.20,262.70" fill="#a6ce8a" stroke="none" stroke-width="1" />
<polygon points="639.40,222.50 646.40,222.50 646.40,343.30 582.30,343.30 582.30,278.60 618.20,238.70" fill="#8ac36a" stroke="none" stroke-width="1" />
<polygon points="582.30,278.60 582.30,343.30 567.70,343.30 567.70,303.40 575.50,294.80 577.50,285.60 578.90,284.70 582.30,279.70" fill="#a6ce8a" stroke="none" stroke-width="1" />
<polygon points="560.30,303.40 567.70,303.40 567.70,343.30 560.30,343.30" fill="#e0ebd4" stroke="none" stroke-width="1" />
<defs><linearGradient id="ag224_0" gradientUnits="userSpaceOnUse" x1="528.6" y1="326.6" x2="577.9" y2="259.5"><stop offset="0" stop-color="#ee7a30"/><stop offset="0.14" stop-color="#ee7a30"/><stop offset="0.32" stop-color="#e8844a" stop-opacity="0.75"/><stop offset="0.5" stop-color="#d9cdc8" stop-opacity="0.42"/><stop offset="0.72" stop-color="#3aa6c0" stop-opacity="0.8"/><stop offset="1" stop-color="#10a8c6"/></linearGradient></defs>
<polygon points="530.37,327.90 573.64,269.52 576.54,271.65 577.90,259.50 566.71,264.43 569.61,266.56 526.83,325.30" fill="url(#ag224_0)" stroke="rgba(30,30,30,0.55)" stroke-width="0.5" />
<polyline points="481.90,214.50 610.30,214.50" fill="none" stroke="#231f24" stroke-width="0.95" />
<polyline points="481.90,262.90 566.70,262.90" fill="none" stroke="rgba(0,0,0,0.34)" stroke-width="1.2" />
<polyline points="481.90,279.20 559.70,279.20" fill="none" stroke="rgba(0,0,0,0.45)" stroke-width="1.1" />
<polyline points="559.70,279.20 576.20,279.20" fill="none" stroke="#231f24" stroke-width="0.95" />
<polyline points="481.90,303.40 567.70,303.40" fill="none" stroke="#231f24" stroke-width="0.95" />
<polyline points="481.90,319.40 540.20,319.40" fill="none" stroke="#231f24" stroke-width="0.95" />
<polyline points="610.30,222.50 646.40,222.50" fill="none" stroke="#231f24" stroke-width="0.95" />
<polyline points="617.40,206.30 624.90,206.30 624.90,198.50" fill="none" stroke="#231f24" stroke-width="0.95" />
<polyline points="610.30,198.50 610.30,222.50" fill="none" stroke="#231f24" stroke-width="0.95" />
<polyline points="617.40,198.50 617.40,222.50" fill="none" stroke="#231f24" stroke-width="0.95" />
<polyline points="517.50,319.40 517.50,343.30" fill="none" stroke="rgba(0,0,0,0.45)" stroke-width="0.9" />
<polyline points="537.10,319.40 537.10,343.30" fill="none" stroke="rgba(0,0,0,0.34)" stroke-width="0.8" />
<polyline points="539.30,316.10 539.30,343.30" fill="none" stroke="rgba(0,0,0,0.45)" stroke-width="0.8" />
<polyline points="542.30,312.50 542.30,343.30" fill="none" stroke="#231f24" stroke-width="0.95" />
<polyline points="560.30,303.40 560.30,343.30" fill="none" stroke="#231f24" stroke-width="0.95" />
<polyline points="567.70,303.40 567.70,343.30" fill="none" stroke="#231f24" stroke-width="0.95" />
<polyline points="582.30,279.10 582.30,343.30" fill="none" stroke="rgba(0,0,0,0.42)" stroke-width="1.2" />
<polyline points="617.40,206.30 610.30,213.80" fill="none" stroke="#231f24" stroke-width="0.95" />
<polyline points="610.20,198.50 603.30,222.50" fill="none" stroke="#231f24" stroke-width="0.9" stroke-dasharray="3.2,1"/>
<polyline points="603.30,222.50 566.70,262.90 560.40,278.30 552.70,296.60" fill="none" stroke="#231f24" stroke-width="0.95" />
<polyline points="610.30,214.50 596.20,262.70" fill="none" stroke="#231f24" stroke-width="0.9" stroke-dasharray="3.2,1"/>
<polyline points="617.40,222.50 576.60,268.20 550.60,301.30 548.90,303.40 546.40,312.50 542.30,312.50" fill="none" stroke="#231f24" stroke-width="0.95" />
<polyline points="646.40,215.00 639.40,222.50 618.20,238.70 582.30,278.60" fill="none" stroke="#231f24" stroke-width="0.95" />
<polyline points="582.30,279.70 578.90,284.70 577.50,285.60" fill="none" stroke="#231f24" stroke-width="0.95" />
<polyline points="576.20,279.20 577.50,285.60 575.50,294.80 567.70,303.40" fill="none" stroke="#231f24" stroke-width="0.95" />
<line x1="481.9" y1="198.5" x2="646.4" y2="198.5" stroke="#4a474b" stroke-width="1"/>
<line x1="646.4" y1="198.5" x2="646.4" y2="343.3" stroke="#3d3a3e" stroke-width="1"/>
<line x1="481.9" y1="198.0" x2="481.9" y2="343.90000000000003" stroke="rgba(0,0,0,0.46)" stroke-width="1.3"/>
<line x1="481.29999999999995" y1="343.3" x2="646.9" y2="343.3" stroke="rgba(0,0,0,0.46)" stroke-width="1.2"/>
<line x1="479.70" y1="214.34" x2="481.90" y2="214.34" stroke="#555" stroke-width="0.9" />
<text x="478.20" y="217.94" font-size="10.4" text-anchor="end" fill="#2b2b2b" >-1.9</text>
<line x1="479.70" y1="246.58" x2="481.90" y2="246.58" stroke="#555" stroke-width="0.9" />
<text x="478.20" y="250.18" font-size="10.4" text-anchor="end" fill="#2b2b2b" >-2.3</text>
<line x1="479.70" y1="278.82" x2="481.90" y2="278.82" stroke="#555" stroke-width="0.9" />
<text x="478.20" y="282.42" font-size="10.4" text-anchor="end" fill="#2b2b2b" >-2.7</text>
<line x1="479.70" y1="311.06" x2="481.90" y2="311.06" stroke="#555" stroke-width="0.9" />
<text x="478.20" y="314.66" font-size="10.4" text-anchor="end" fill="#2b2b2b" >-3.1</text>
<line x1="479.70" y1="343.30" x2="481.90" y2="343.30" stroke="#555" stroke-width="0.9" />
<text x="478.20" y="346.90" font-size="10.4" text-anchor="end" fill="#2b2b2b" >-3.5</text>
<line x1="481.70" y1="343.30" x2="481.70" y2="345.70" stroke="#555" stroke-width="0.9" />
<text x="482.00" y="356.60" font-size="10.4" text-anchor="middle" fill="#2b2b2b" >-2.7</text>
<line x1="517.60" y1="343.30" x2="517.60" y2="345.70" stroke="#555" stroke-width="0.9" />
<text x="517.90" y="356.60" font-size="10.4" text-anchor="middle" fill="#2b2b2b" >-2.2</text>
<line x1="553.50" y1="343.30" x2="553.50" y2="345.70" stroke="#555" stroke-width="0.9" />
<text x="553.80" y="356.60" font-size="10.4" text-anchor="middle" fill="#2b2b2b" >-1.7</text>
<line x1="589.40" y1="343.30" x2="589.40" y2="345.70" stroke="#555" stroke-width="0.9" />
<text x="589.70" y="356.60" font-size="10.4" text-anchor="middle" fill="#2b2b2b" >-1.2</text>
<line x1="625.30" y1="343.30" x2="625.30" y2="345.70" stroke="#555" stroke-width="0.9" />
<text x="625.60" y="356.60" font-size="10.4" text-anchor="middle" fill="#2b2b2b" >-0.7</text>
<text x="542.5" y="367.0" font-size="10.4" fill="#2b2b2b">Δ<tspan font-style="italic">μ</tspan><tspan font-size="6.2" dy="2">Cl−</tspan><tspan dy="-2"> (eV)</tspan></text>
<text transform="translate(453.8,272.6) rotate(-90)" font-size="10.4" text-anchor="middle" fill="#2b2b2b">Δ<tspan font-style="italic">μ</tspan><tspan font-size="6.2" dy="2">HCOO−</tspan><tspan dy="-2"> (eV)</tspan></text>
<text x="536.10" y="193.20" font-size="10.4" text-anchor="start" fill="#7cbf66" >(ii) Cl on (111)</text>
<text x="586.40" y="253.40" font-size="10.4" text-anchor="middle" fill="#222" >16</text>
<text x="548.60" y="289.90" font-size="10.4" text-anchor="middle" fill="#222" >15</text>
<text x="517.90" y="294.20" font-size="10.4" text-anchor="middle" fill="#222" >10</text>
<text x="512.30" y="315.90" font-size="10.4" text-anchor="middle" fill="#222" >9</text>
<text x="527.30" y="336.70" font-size="10.4" text-anchor="middle" fill="#222" >2</text>
<line x1="554.50" y1="286.70" x2="559.40" y2="285.10" stroke="#222" stroke-width="0.8" />
<polygon points="257.10,392.60 385.40,392.60 378.50,416.60 341.90,457.00 335.60,472.40 334.90,473.30 257.10,473.30" fill="#8a5091" stroke="none" stroke-width="1" />
<polygon points="257.10,473.30 334.90,473.30 328.10,490.20 324.10,497.50 257.10,497.50" fill="#8a5091" stroke="none" stroke-width="1" />
<polygon points="257.10,497.50 324.10,497.50 321.60,506.60 317.50,506.60 317.50,513.50 257.10,513.50" fill="#8a5091" stroke="none" stroke-width="1" />
<polygon points="385.40,392.60 385.50,408.60 378.50,432.40 351.80,462.30 327.90,490.70 335.60,472.40 341.90,457.00 378.50,416.60" fill="#8a5091" stroke="none" stroke-width="1" />
<polygon points="385.50,408.60 385.50,416.60 392.60,416.60 378.50,432.40" fill="#8a5091" stroke="none" stroke-width="1" />
<polygon points="385.50,392.60 392.60,392.60 392.60,400.40 385.50,407.90" fill="#ad82b8" stroke="none" stroke-width="1" />
<polygon points="385.50,407.90 392.60,400.40 392.60,416.60 385.50,416.60" fill="#ad82b8" stroke="none" stroke-width="1" />
<polygon points="392.60,392.60 400.10,392.60 400.10,400.40 392.60,400.40" fill="#b892c0" stroke="none" stroke-width="1" />
<polygon points="400.10,392.60 421.60,392.60 421.60,416.60 392.60,416.60 392.60,400.40 400.10,400.40" fill="#bc9ac4" stroke="none" stroke-width="1" />
<defs><linearGradient id="ag0_194" gradientUnits="userSpaceOnUse" x1="303.8" y1="520.7" x2="353.1" y2="453.6"><stop offset="0" stop-color="#ee7a30"/><stop offset="0.14" stop-color="#ee7a30"/><stop offset="0.32" stop-color="#e8844a" stop-opacity="0.75"/><stop offset="0.5" stop-color="#d9cdc8" stop-opacity="0.42"/><stop offset="0.72" stop-color="#3aa6c0" stop-opacity="0.8"/><stop offset="1" stop-color="#10a8c6"/></linearGradient></defs>
<polygon points="305.57,522.00 348.84,463.62 351.74,465.75 353.10,453.60 341.91,458.53 344.81,460.66 302.03,519.40" fill="url(#ag0_194)" stroke="rgba(30,30,30,0.55)" stroke-width="0.5" />
<polyline points="257.10,408.60 385.50,408.60" fill="none" stroke="#231f24" stroke-width="0.95" />
<polyline points="257.10,457.00 341.90,457.00" fill="none" stroke="rgba(20,10,20,0.8)" stroke-width="1.2" />
<polyline points="257.10,473.30 334.90,473.30" fill="none" stroke="rgba(20,10,20,0.85)" stroke-width="1.1" />
<polyline points="334.90,473.30 351.40,473.30" fill="none" stroke="#231f24" stroke-width="0.95" />
<polyline points="257.10,497.50 342.90,497.50" fill="none" stroke="#231f24" stroke-width="0.95" />
<polyline points="257.10,513.50 315.40,513.50" fill="none" stroke="#231f24" stroke-width="0.95" />
<polyline points="385.50,416.60 421.60,416.60" fill="none" stroke="#231f24" stroke-width="0.95" />
<polyline points="392.60,400.40 400.10,400.40 400.10,392.60" fill="none" stroke="#231f24" stroke-width="0.95" />
<polyline points="385.50,392.60 385.50,416.60" fill="none" stroke="#231f24" stroke-width="0.95" />
<polyline points="392.60,392.60 392.60,416.60" fill="none" stroke="#231f24" stroke-width="0.95" />
<polyline points="292.70,513.50 292.70,537.40" fill="none" stroke="rgba(20,10,20,0.85)" stroke-width="0.9" />
<polyline points="312.30,513.50 312.30,537.40" fill="none" stroke="rgba(20,10,20,0.8)" stroke-width="0.8" />
<polyline points="314.50,510.20 314.50,537.40" fill="none" stroke="rgba(20,10,20,0.85)" stroke-width="0.8" />
<polyline points="317.50,506.60 317.50,537.40" fill="none" stroke="#231f24" stroke-width="0.95" />
<polyline points="335.50,497.50 335.50,537.40" fill="none" stroke="#231f24" stroke-width="0.95" />
<polyline points="342.90,497.50 342.90,537.40" fill="none" stroke="#231f24" stroke-width="0.95" />
<polyline points="357.50,473.20 357.50,537.40" fill="none" stroke="rgba(0,0,0,0.42)" stroke-width="1.2" />
<polyline points="392.60,400.40 385.50,407.90" fill="none" stroke="#231f24" stroke-width="0.95" />
<polyline points="385.40,392.60 378.50,416.60" fill="none" stroke="#231f24" stroke-width="0.9" stroke-dasharray="3.2,1"/>
<polyline points="378.50,416.60 341.90,457.00 335.60,472.40 327.90,490.70" fill="none" stroke="#231f24" stroke-width="0.95" />
<polyline points="385.50,408.60 371.40,456.80" fill="none" stroke="#231f24" stroke-width="0.9" stroke-dasharray="3.2,1"/>
<polyline points="392.60,416.60 351.80,462.30 325.80,495.40 324.10,497.50 321.60,506.60 317.50,506.60" fill="none" stroke="#231f24" stroke-width="0.95" />
<polyline points="421.60,409.10 414.60,416.60 393.40,432.80 357.50,472.70" fill="none" stroke="#231f24" stroke-width="0.95" />
<polyline points="357.50,473.80 354.10,478.80 352.70,479.70" fill="none" stroke="#231f24" stroke-width="0.95" />
<polyline points="351.40,473.30 352.70,479.70 350.70,488.90 342.90,497.50" fill="none" stroke="#231f24" stroke-width="0.95" />
<line x1="257.1" y1="392.6" x2="421.6" y2="392.6" stroke="#4a474b" stroke-width="1"/>
<line x1="421.6" y1="392.6" x2="421.6" y2="537.4" stroke="#3d3a3e" stroke-width="1"/>
<line x1="257.1" y1="392.1" x2="257.1" y2="538.0" stroke="rgba(0,0,0,0.46)" stroke-width="1.3"/>
<line x1="256.5" y1="537.4" x2="422.1" y2="537.4" stroke="rgba(0,0,0,0.46)" stroke-width="1.2"/>
<line x1="254.90" y1="408.44" x2="257.10" y2="408.44" stroke="#555" stroke-width="0.9" />
<text x="253.40" y="412.04" font-size="10.4" text-anchor="end" fill="#2b2b2b" >-1.9</text>
<line x1="254.90" y1="440.68" x2="257.10" y2="440.68" stroke="#555" stroke-width="0.9" />
<text x="253.40" y="444.28" font-size="10.4" text-anchor="end" fill="#2b2b2b" >-2.3</text>
<line x1="254.90" y1="472.92" x2="257.10" y2="472.92" stroke="#555" stroke-width="0.9" />
<text x="253.40" y="476.52" font-size="10.4" text-anchor="end" fill="#2b2b2b" >-2.7</text>
<line x1="254.90" y1="505.16" x2="257.10" y2="505.16" stroke="#555" stroke-width="0.9" />
<text x="253.40" y="508.76" font-size="10.4" text-anchor="end" fill="#2b2b2b" >-3.1</text>
<line x1="254.90" y1="537.40" x2="257.10" y2="537.40" stroke="#555" stroke-width="0.9" />
<text x="253.40" y="541.00" font-size="10.4" text-anchor="end" fill="#2b2b2b" >-3.5</text>
<line x1="256.90" y1="537.40" x2="256.90" y2="539.80" stroke="#555" stroke-width="0.9" />
<text x="257.20" y="550.70" font-size="10.4" text-anchor="middle" fill="#2b2b2b" >-2.7</text>
<line x1="292.80" y1="537.40" x2="292.80" y2="539.80" stroke="#555" stroke-width="0.9" />
<text x="293.10" y="550.70" font-size="10.4" text-anchor="middle" fill="#2b2b2b" >-2.2</text>
<line x1="328.70" y1="537.40" x2="328.70" y2="539.80" stroke="#555" stroke-width="0.9" />
<text x="329.00" y="550.70" font-size="10.4" text-anchor="middle" fill="#2b2b2b" >-1.7</text>
<line x1="364.60" y1="537.40" x2="364.60" y2="539.80" stroke="#555" stroke-width="0.9" />
<text x="364.90" y="550.70" font-size="10.4" text-anchor="middle" fill="#2b2b2b" >-1.2</text>
<line x1="400.50" y1="537.40" x2="400.50" y2="539.80" stroke="#555" stroke-width="0.9" />
<text x="400.80" y="550.70" font-size="10.4" text-anchor="middle" fill="#2b2b2b" >-0.7</text>
<text x="317.70000000000005" y="561.0999999999999" font-size="10.4" fill="#2b2b2b">Δ<tspan font-style="italic">μ</tspan><tspan font-size="6.2" dy="2">Cl−</tspan><tspan dy="-2"> (eV)</tspan></text>
<text transform="translate(229.0,466.7) rotate(-90)" font-size="10.4" text-anchor="middle" fill="#2b2b2b">Δ<tspan font-style="italic">μ</tspan><tspan font-size="6.2" dy="2">HCOO−</tspan><tspan dy="-2"> (eV)</tspan></text>
<text x="299.90" y="387.30" font-size="10.4" text-anchor="start" fill="#9557a3" >(iii) HCOO on (100)</text>
<text x="361.60" y="447.50" font-size="10.4" text-anchor="middle" fill="#f2f2f2" >16</text>
<text x="323.80" y="484.00" font-size="10.4" text-anchor="middle" fill="#f2f2f2" >15</text>
<text x="293.10" y="488.30" font-size="10.4" text-anchor="middle" fill="#f2f2f2" >10</text>
<text x="287.50" y="510.00" font-size="10.4" text-anchor="middle" fill="#f2f2f2" >9</text>
<text x="302.50" y="530.80" font-size="10.4" text-anchor="middle" fill="#222" >2</text>
<line x1="329.70" y1="480.80" x2="334.60" y2="479.20" stroke="#f2f2f2" stroke-width="0.8" />
<polygon points="481.90,392.60 610.20,392.60 603.30,416.60 566.70,457.00 560.40,472.40 559.70,473.30 481.90,473.30" fill="#8a5091" stroke="none" stroke-width="1" />
<polygon points="481.90,473.30 559.70,473.30 552.90,490.20 548.90,497.50 481.90,497.50" fill="#8a5091" stroke="none" stroke-width="1" />
<polygon points="610.20,392.60 610.30,408.60 603.30,432.40 576.60,462.30 552.70,490.70 560.40,472.40 566.70,457.00 603.30,416.60" fill="#8a5091" stroke="none" stroke-width="1" />
<polygon points="610.30,408.60 610.30,416.60 617.40,416.60 603.30,432.40" fill="#bc9ac4" stroke="none" stroke-width="1" />
<polygon points="610.30,392.60 617.40,392.60 617.40,400.40 610.30,407.90" fill="#8a5091" stroke="none" stroke-width="1" />
<polygon points="610.30,407.90 617.40,400.40 617.40,416.60 610.30,416.60" fill="#bc9ac4" stroke="none" stroke-width="1" />
<polygon points="617.40,392.60 624.90,392.60 624.90,400.40 617.40,400.40" fill="#8a5091" stroke="none" stroke-width="1" />
<polygon points="624.90,392.60 646.40,392.60 646.40,416.60 617.40,416.60 617.40,400.40 624.90,400.40" fill="#bc9ac4" stroke="none" stroke-width="1" />
<polygon points="603.30,432.40 617.40,416.60 639.40,416.60 618.20,432.80 596.20,456.80" fill="#bc9ac4" stroke="none" stroke-width="1" />
<polygon points="603.30,432.40 596.20,456.80 582.30,472.70 582.30,473.80 578.90,478.80 577.50,479.70 575.50,488.90 567.70,497.50 548.90,497.50 550.60,495.40 576.60,462.30" fill="#8a5091" stroke="none" stroke-width="1" />
<defs><linearGradient id="ag224_194" gradientUnits="userSpaceOnUse" x1="528.6" y1="520.7" x2="577.9" y2="453.6"><stop offset="0" stop-color="#ee7a30"/><stop offset="0.14" stop-color="#ee7a30"/><stop offset="0.32" stop-color="#e8844a" stop-opacity="0.75"/><stop offset="0.5" stop-color="#d9cdc8" stop-opacity="0.42"/><stop offset="0.72" stop-color="#3aa6c0" stop-opacity="0.8"/><stop offset="1" stop-color="#10a8c6"/></linearGradient></defs>
<polygon points="530.37,522.00 573.64,463.62 576.54,465.75 577.90,453.60 566.71,458.53 569.61,460.66 526.83,519.40" fill="url(#ag224_194)" stroke="rgba(30,30,30,0.55)" stroke-width="0.5" />
<polyline points="481.90,408.60 610.30,408.60" fill="none" stroke="#231f24" stroke-width="0.95" />
<polyline points="481.90,457.00 566.70,457.00" fill="none" stroke="rgba(20,10,20,0.8)" stroke-width="1.2" />
<polyline points="481.90,473.30 559.70,473.30" fill="none" stroke="rgba(20,10,20,0.85)" stroke-width="1.1" />
<polyline points="559.70,473.30 576.20,473.30" fill="none" stroke="#231f24" stroke-width="0.95" />
<polyline points="481.90,497.50 567.70,497.50" fill="none" stroke="#231f24" stroke-width="0.95" />
<polyline points="481.90,513.50 540.20,513.50" fill="none" stroke="#231f24" stroke-width="0.95" />
<polyline points="610.30,416.60 646.40,416.60" fill="none" stroke="#231f24" stroke-width="0.95" />
<polyline points="617.40,400.40 624.90,400.40 624.90,392.60" fill="none" stroke="#231f24" stroke-width="0.95" />
<polyline points="610.30,392.60 610.30,416.60" fill="none" stroke="#231f24" stroke-width="0.95" />
<polyline points="617.40,392.60 617.40,416.60" fill="none" stroke="#231f24" stroke-width="0.95" />
<polyline points="517.50,513.50 517.50,537.40" fill="none" stroke="rgba(20,10,20,0.85)" stroke-width="0.9" />
<polyline points="537.10,513.50 537.10,537.40" fill="none" stroke="rgba(20,10,20,0.8)" stroke-width="0.8" />
<polyline points="539.30,510.20 539.30,537.40" fill="none" stroke="rgba(20,10,20,0.85)" stroke-width="0.8" />
<polyline points="542.30,506.60 542.30,537.40" fill="none" stroke="#231f24" stroke-width="0.95" />
<polyline points="560.30,497.50 560.30,537.40" fill="none" stroke="#231f24" stroke-width="0.95" />
<polyline points="567.70,497.50 567.70,537.40" fill="none" stroke="#231f24" stroke-width="0.95" />
<polyline points="582.30,473.20 582.30,537.40" fill="none" stroke="rgba(0,0,0,0.42)" stroke-width="1.2" />
<polyline points="617.40,400.40 610.30,407.90" fill="none" stroke="#231f24" stroke-width="0.95" />
<polyline points="610.20,392.60 603.30,416.60" fill="none" stroke="#231f24" stroke-width="0.9" stroke-dasharray="3.2,1"/>
<polyline points="603.30,416.60 566.70,457.00 560.40,472.40 552.70,490.70" fill="none" stroke="#231f24" stroke-width="0.95" />
<polyline points="610.30,408.60 596.20,456.80" fill="none" stroke="#231f24" stroke-width="0.9" stroke-dasharray="3.2,1"/>
<polyline points="617.40,416.60 576.60,462.30 550.60,495.40 548.90,497.50 546.40,506.60 542.30,506.60" fill="none" stroke="#231f24" stroke-width="0.95" />
<polyline points="646.40,409.10 639.40,416.60 618.20,432.80 582.30,472.70" fill="none" stroke="#231f24" stroke-width="0.95" />
<polyline points="582.30,473.80 578.90,478.80 577.50,479.70" fill="none" stroke="#231f24" stroke-width="0.95" />
<polyline points="576.20,473.30 577.50,479.70 575.50,488.90 567.70,497.50" fill="none" stroke="#231f24" stroke-width="0.95" />
<line x1="481.9" y1="392.6" x2="646.4" y2="392.6" stroke="#4a474b" stroke-width="1"/>
<line x1="646.4" y1="392.6" x2="646.4" y2="537.4" stroke="#3d3a3e" stroke-width="1"/>
<line x1="481.9" y1="392.1" x2="481.9" y2="538.0" stroke="rgba(0,0,0,0.46)" stroke-width="1.3"/>
<line x1="481.29999999999995" y1="537.4" x2="646.9" y2="537.4" stroke="rgba(0,0,0,0.46)" stroke-width="1.2"/>
<line x1="479.70" y1="408.44" x2="481.90" y2="408.44" stroke="#555" stroke-width="0.9" />
<text x="478.20" y="412.04" font-size="10.4" text-anchor="end" fill="#2b2b2b" >-1.9</text>
<line x1="479.70" y1="440.68" x2="481.90" y2="440.68" stroke="#555" stroke-width="0.9" />
<text x="478.20" y="444.28" font-size="10.4" text-anchor="end" fill="#2b2b2b" >-2.3</text>
<line x1="479.70" y1="472.92" x2="481.90" y2="472.92" stroke="#555" stroke-width="0.9" />
<text x="478.20" y="476.52" font-size="10.4" text-anchor="end" fill="#2b2b2b" >-2.7</text>
<line x1="479.70" y1="505.16" x2="481.90" y2="505.16" stroke="#555" stroke-width="0.9" />
<text x="478.20" y="508.76" font-size="10.4" text-anchor="end" fill="#2b2b2b" >-3.1</text>
<line x1="479.70" y1="537.40" x2="481.90" y2="537.40" stroke="#555" stroke-width="0.9" />
<text x="478.20" y="541.00" font-size="10.4" text-anchor="end" fill="#2b2b2b" >-3.5</text>
<line x1="481.70" y1="537.40" x2="481.70" y2="539.80" stroke="#555" stroke-width="0.9" />
<text x="482.00" y="550.70" font-size="10.4" text-anchor="middle" fill="#2b2b2b" >-2.7</text>
<line x1="517.60" y1="537.40" x2="517.60" y2="539.80" stroke="#555" stroke-width="0.9" />
<text x="517.90" y="550.70" font-size="10.4" text-anchor="middle" fill="#2b2b2b" >-2.2</text>
<line x1="553.50" y1="537.40" x2="553.50" y2="539.80" stroke="#555" stroke-width="0.9" />
<text x="553.80" y="550.70" font-size="10.4" text-anchor="middle" fill="#2b2b2b" >-1.7</text>
<line x1="589.40" y1="537.40" x2="589.40" y2="539.80" stroke="#555" stroke-width="0.9" />
<text x="589.70" y="550.70" font-size="10.4" text-anchor="middle" fill="#2b2b2b" >-1.2</text>
<line x1="625.30" y1="537.40" x2="625.30" y2="539.80" stroke="#555" stroke-width="0.9" />
<text x="625.60" y="550.70" font-size="10.4" text-anchor="middle" fill="#2b2b2b" >-0.7</text>
<text x="542.5" y="561.0999999999999" font-size="10.4" fill="#2b2b2b">Δ<tspan font-style="italic">μ</tspan><tspan font-size="6.2" dy="2">Cl−</tspan><tspan dy="-2"> (eV)</tspan></text>
<text transform="translate(453.8,466.7) rotate(-90)" font-size="10.4" text-anchor="middle" fill="#2b2b2b">Δ<tspan font-style="italic">μ</tspan><tspan font-size="6.2" dy="2">HCOO−</tspan><tspan dy="-2"> (eV)</tspan></text>
<text x="524.50" y="387.30" font-size="10.4" text-anchor="start" fill="#9557a3" >(iv) HCOO on (111)</text>
<text x="586.40" y="447.50" font-size="10.4" text-anchor="middle" fill="#f2f2f2" >16</text>
<text x="548.60" y="484.00" font-size="10.4" text-anchor="middle" fill="#f2f2f2" >15</text>
<text x="517.90" y="488.30" font-size="10.4" text-anchor="middle" fill="#f2f2f2" >10</text>
<text x="512.30" y="510.00" font-size="10.4" text-anchor="middle" fill="#222" >9</text>
<text x="527.30" y="530.80" font-size="10.4" text-anchor="middle" fill="#222" >2</text>
<line x1="554.50" y1="480.80" x2="559.40" y2="479.20" stroke="#f2f2f2" stroke-width="0.8" />
<defs><linearGradient id="cbG" x1="0" y1="0" x2="0" y2="1"><stop offset="0" stop-color="#75b751"/><stop offset="0.5" stop-color="#b6d8a0"/><stop offset="0.8" stop-color="#e6f1df"/><stop offset="1" stop-color="#ffffff"/></linearGradient></defs>
<rect x="654.6" y="198.5" width="12" height="145.0" fill="url(#cbG)" stroke="#b4b4b4" stroke-width="0.9"/>
<text x="670.60" y="198.90" font-size="10.4" text-anchor="start" fill="#2b2b2b" >0.5</text>
<text x="670.60" y="227.86" font-size="10.4" text-anchor="start" fill="#2b2b2b" >0.4</text>
<text x="670.60" y="256.82" font-size="10.4" text-anchor="start" fill="#2b2b2b" >0.3</text>
<text x="670.60" y="285.78" font-size="10.4" text-anchor="start" fill="#2b2b2b" >0.2</text>
<text x="670.60" y="314.74" font-size="10.4" text-anchor="start" fill="#2b2b2b" >0.1</text>
<text x="670.60" y="343.70" font-size="10.4" text-anchor="start" fill="#2b2b2b" >0</text>
<text x="673.6" y="357.0" font-size="10.4" text-anchor="middle" fill="#2b2b2b"><tspan font-style="italic">θ</tspan><tspan font-size="6.2" dy="2.5">Cl</tspan></text>
<defs><linearGradient id="cbP" x1="0" y1="0" x2="0" y2="1"><stop offset="0" stop-color="#864a90"/><stop offset="0.5" stop-color="#c3a2ca"/><stop offset="0.8" stop-color="#ece2ee"/><stop offset="1" stop-color="#ffffff"/></linearGradient></defs>
<rect x="654.6" y="392.6" width="12" height="145.19999999999993" fill="url(#cbP)" stroke="#b4b4b4" stroke-width="0.9"/>
<text x="670.60" y="393.10" font-size="10.4" text-anchor="start" fill="#2b2b2b" >0.5</text>
<text x="670.60" y="422.06" font-size="10.4" text-anchor="start" fill="#2b2b2b" >0.4</text>
<text x="670.60" y="451.02" font-size="10.4" text-anchor="start" fill="#2b2b2b" >0.3</text>
<text x="670.60" y="479.98" font-size="10.4" text-anchor="start" fill="#2b2b2b" >0.2</text>
<text x="670.60" y="508.94" font-size="10.4" text-anchor="start" fill="#2b2b2b" >0.1</text>
<text x="670.60" y="537.90" font-size="10.4" text-anchor="start" fill="#2b2b2b" >0</text>
<text x="673.6" y="551.3" font-size="10.4" text-anchor="middle" fill="#2b2b2b"><tspan font-style="italic">θ</tspan><tspan font-size="6.2" dy="2.5">HCOO</tspan></text>
</svg></body></html>
